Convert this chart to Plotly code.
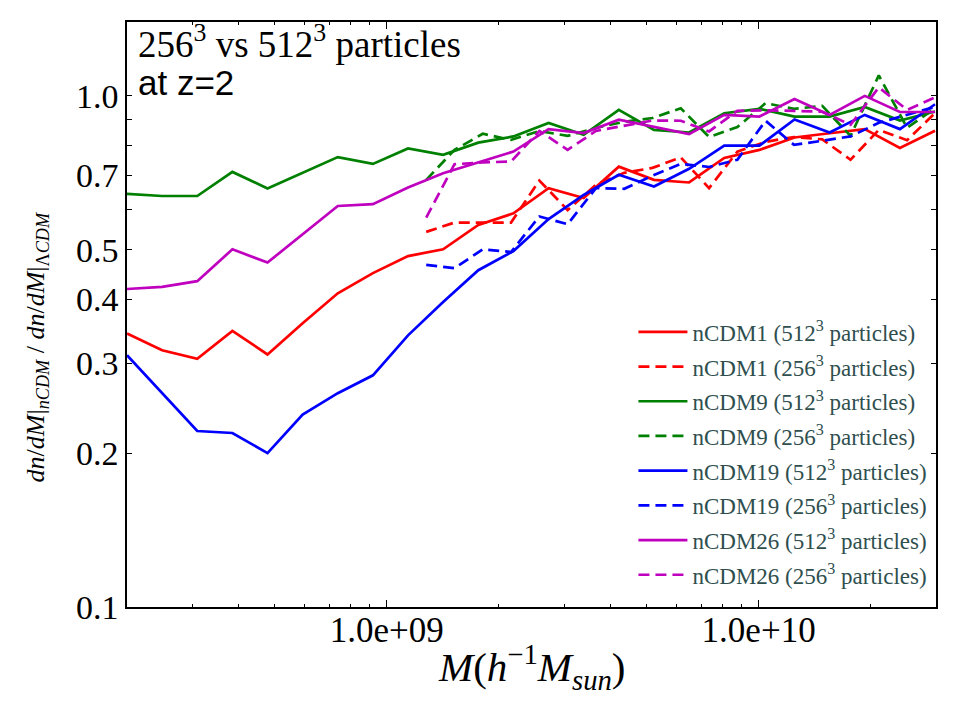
import numpy as np
import plotly.graph_objects as go

# ---- data ----
mass_512 = [2.000e8, 2.486e8, 3.090e8, 3.842e8, 4.775e8, 5.936e8, 7.379e8, 9.173e8,
            1.140e9, 1.417e9, 1.762e9, 2.190e9, 2.723e9, 3.384e9, 4.207e9, 5.230e9,
            6.501e9, 8.082e9, 1.005e10, 1.249e10, 1.552e10, 1.930e10, 2.399e10, 2.982e10]
mass_256 = [1.276e9, 1.520e9, 1.811e9, 2.158e9, 2.572e9, 3.064e9, 3.651e9, 4.350e9,
            5.182e9, 6.175e9, 7.357e9, 8.766e9, 1.044e10, 1.245e10, 1.483e10, 1.767e10,
            2.105e10, 2.508e10, 2.988e10]

ncdm1_512 = [0.343, 0.318, 0.306, 0.347, 0.312, 0.359, 0.411, 0.450, 0.486, 0.501,
             0.559, 0.589, 0.660, 0.631, 0.727, 0.685, 0.677, 0.756, 0.784, 0.829,
             0.845, 0.861, 0.791, 0.855]
ncdm1_256 = [0.542, 0.565, 0.565, 0.565, 0.683, 0.598, 0.670, 0.707, 0.723, 0.758,
             0.660, 0.778, 0.813, 0.831, 0.822, 0.750, 0.858, 0.819, 0.927]
ncdm9_512 = [0.643, 0.637, 0.637, 0.710, 0.659, 0.708, 0.759, 0.736, 0.789, 0.767,
             0.810, 0.833, 0.885, 0.839, 0.939, 0.858, 0.848, 0.925, 0.943, 0.911,
             0.911, 0.951, 0.895, 0.932]
ncdm9_256 = [0.685, 0.784, 0.843, 0.820, 0.854, 0.835, 0.866, 0.890, 0.905, 0.946,
             0.831, 0.869, 0.968, 0.943, 0.956, 0.835, 1.097, 0.866, 0.946]
ncdm19_512 = [0.311, 0.262, 0.221, 0.219, 0.200, 0.238, 0.262, 0.284, 0.340, 0.395,
              0.456, 0.497, 0.574, 0.640, 0.701, 0.665, 0.720, 0.799, 0.799, 0.899,
              0.848, 0.918, 0.861, 0.963]
ncdm19_256 = [0.467, 0.460, 0.501, 0.495, 0.581, 0.561, 0.660, 0.658, 0.698, 0.736,
              0.726, 0.750, 0.894, 0.802, 0.817, 0.833, 0.886, 0.918, 0.952]
ncdm26_512 = [0.419, 0.423, 0.434, 0.501, 0.472, 0.537, 0.609, 0.614, 0.662, 0.706,
              0.741, 0.778, 0.861, 0.846, 0.898, 0.871, 0.842, 0.918, 0.911, 0.986,
              0.918, 1.000, 0.930, 0.930]
ncdm26_256 = [0.578, 0.735, 0.741, 0.744, 0.854, 0.784, 0.854, 0.874, 0.895, 0.894,
              0.852, 0.935, 0.937, 0.935, 0.931, 0.878, 1.039, 0.939, 0.994]

series = [
    ("nCDM1", ncdm1_512, ncdm1_256, "#FF0000"),
    ("nCDM9", ncdm9_512, ncdm9_256, "#008000"),
    ("nCDM19", ncdm19_512, ncdm19_256, "#0000FF"),
    ("nCDM26", ncdm26_512, ncdm26_256, "#BF00BF"),
]

y_ticks = [0.1, 0.2, 0.3, 0.4, 0.5, 0.7, 1.0]
y_ticktext = ["0.1", "0.2", "0.3", "0.4", "0.5", "0.7", "1.0"]
y_minor = [0.6, 0.8, 0.9]
x_ticks = [1e9, 1e10]
x_ticktext = ["1.0e+09", "1.0e+10"]

SERIF = "Liberation Serif"

fig = go.Figure()
for i, (name, v512, v256, col) in enumerate(series):
    fig.add_trace(go.Scatter(
        x=mass_512, y=v512, mode="lines",
        line=dict(color=col, width=2.7),
        name=f"{name} (512<sup>3</sup> particles)",
        legendgroup=f"g{2*i}"))
    fig.add_trace(go.Scatter(
        x=mass_256, y=v256, mode="lines",
        line=dict(color=col, width=2.7, dash="11px,6px"),
        name=f"{name} (256<sup>3</sup> particles)",
        legendgroup=f"g{2*i+1}"))

minor_x = [k * 10.0 ** e for e in (8, 9, 10) for k in range(2, 10)]

fig.update_layout(
    width=960, height=720,
    margin=dict(l=127, r=24, t=22, b=113),
    paper_bgcolor="white", plot_bgcolor="white",
    font=dict(family=SERIF, color="black"),
    showlegend=True,
    legend=dict(
        x=0.626, y=0.507, xanchor="left", yanchor="top",
        font=dict(family=SERIF, size=23, color="#2F4F4F"),
        bgcolor="rgba(255,255,255,0)", borderwidth=0,
        tracegroupgap=1.8, traceorder="grouped", itemwidth=49,
    ),
    xaxis=dict(
        type="log", range=[np.log10(2e8), np.log10(3e10)],
        tickmode="array", tickvals=x_ticks, ticktext=x_ticktext,
        ticks="inside", ticklen=7, tickwidth=1.2, tickcolor="black",
        minor=dict(tickmode="array", tickvals=minor_x, ticks="inside",
                   ticklen=3.5, tickwidth=1.2, tickcolor="black", showgrid=False),
        showline=True, linecolor="black", linewidth=1.5, mirror="allticks",
        showgrid=False, zeroline=False, ticklabelstandoff=-9,
        tickfont=dict(family=SERIF, size=35, color="black"),
    ),
    yaxis=dict(
        type="log", range=[-1, np.log10(1.395)],
        tickmode="array", tickvals=y_ticks, ticktext=y_ticktext,
        ticks="inside", ticklen=5, tickwidth=1.2, tickcolor="black",
        minor=dict(tickmode="array", tickvals=y_minor, ticks="inside",
                   ticklen=5, tickwidth=1.2, tickcolor="black", showgrid=False),
        showline=True, linecolor="black", linewidth=1.5, mirror="allticks",
        showgrid=False, zeroline=False,
        tickfont=dict(family=SERIF, size=34, color="black"),
    ),
)

fig.add_annotation(
    xref="paper", yref="paper", x=0.5, y=-0.103,
    text="<i>M</i>(<i>h</i><sup>−1</sup><i>M</i><sub><i>sun</i></sub>)",
    showarrow=False, xanchor="center", yanchor="middle",
    font=dict(family=SERIF, size=41, color="black"))
fig.add_annotation(
    xref="paper", yref="paper", x=-0.111, y=0.444,
    text="<i>dn</i>/<i>dM</i>|<sub><i>nCDM</i></sub> / <i>dn</i>/<i>dM</i>|<sub>Λ<i>CDM</i></sub>",
    textangle=-90, showarrow=False, xanchor="center", yanchor="middle",
    font=dict(family=SERIF, size=26, color="black"))
fig.add_annotation(
    xref="paper", yref="paper", x=0.011, y=0.966,
    text="256<sup>3</sup> vs 512<sup>3</sup> particles",
    showarrow=False, xanchor="left", yanchor="middle",
    font=dict(family=SERIF, size=37, color="black"))
fig.add_annotation(
    xref="paper", yref="paper", x=0.011, y=0.896,
    text="at z=2",
    showarrow=False, xanchor="left", yanchor="middle",
    font=dict(family="Liberation Sans", size=35, color="black"))

fig.write_html("out.html")
